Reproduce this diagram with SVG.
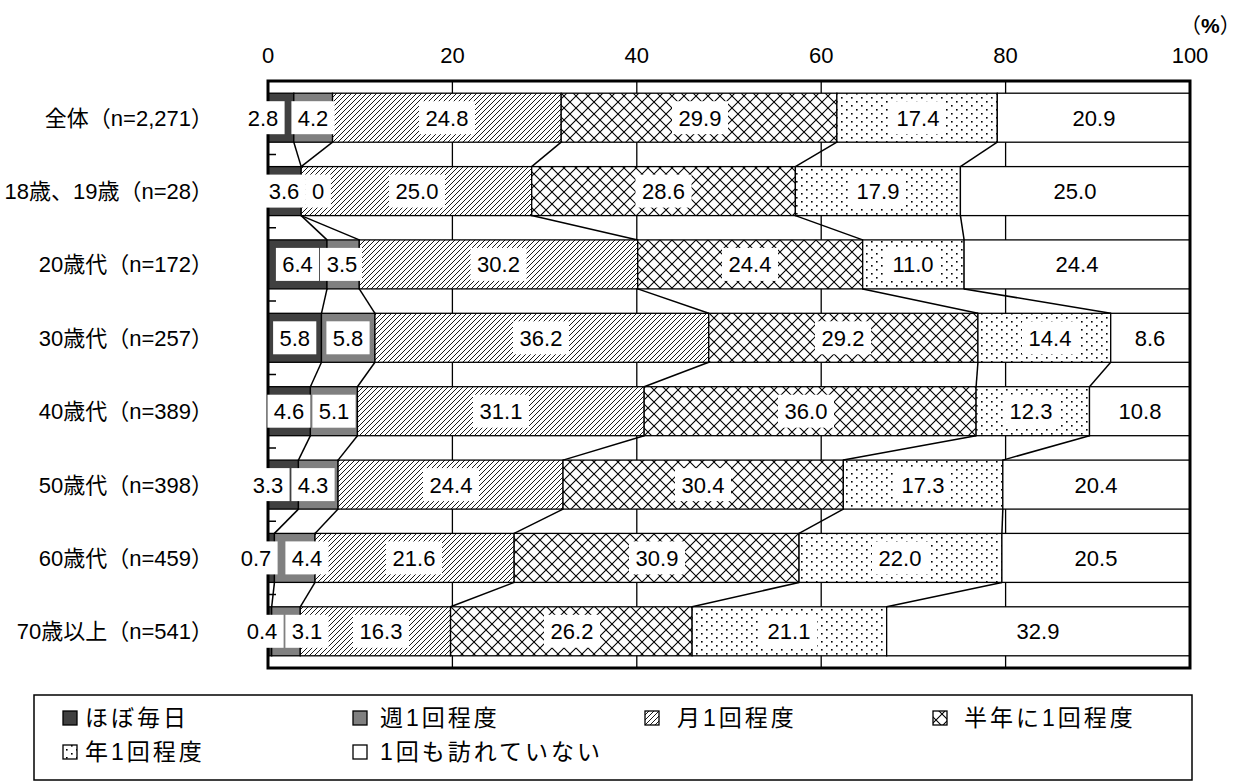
<svg xmlns="http://www.w3.org/2000/svg" width="1252" height="782" viewBox="0 0 1252 782">
<style>
text{font-family:"Liberation Sans","Noto Sans CJK JP",sans-serif;fill:#000}
.tick{font-size:22px;text-anchor:middle}
.cat{font-size:22px;text-anchor:end}
.v{font-size:22px;text-anchor:middle}
.lg{font-size:23px;letter-spacing:3px}
.seg rect,.sw{stroke:#000;stroke-width:1.3}
.s1{fill:#404040}.s2{fill:#808080}.s3{fill:url(#hatch)}.s4{fill:url(#cross)}.s5{fill:url(#dots)}.s6{fill:#fff}
.lb{fill:#fff}
.grid{stroke:#000;stroke-width:1.3}
.conn line{stroke:#000;stroke-width:1.5}
</style>
<defs>
<pattern id="hatch" width="5" height="5" patternUnits="userSpaceOnUse"><rect width="5" height="5" fill="#fff"/><path d="M-1,1 L1,-1 M0,5 L5,0 M4,6 L6,4" stroke="#000" stroke-width="0.9"/></pattern>
<pattern id="cross" width="12" height="12" patternUnits="userSpaceOnUse"><rect width="12" height="12" fill="#fff"/><path d="M0,0 L12,12 M12,0 L0,12" stroke="#000" stroke-width="1.1"/></pattern>
<pattern id="dots" width="10" height="8" patternUnits="userSpaceOnUse"><rect width="10" height="8" fill="#fff"/><rect x="1" y="1" width="1.6" height="1.6" fill="#000"/><rect x="6" y="5" width="1.6" height="1.6" fill="#000"/></pattern>
</defs>
<rect width="1252" height="782" fill="#fff"/>

<g id="axis-labels">
<text class="tick" x="268" y="63">0</text>
<text class="tick" x="452.4" y="63">20</text>
<text class="tick" x="636.8" y="63">40</text>
<text class="tick" x="821.2" y="63">60</text>
<text class="tick" x="1005.6" y="63">80</text>
<text class="tick" x="1190" y="63">100</text>
<text x="1180" y="33" font-size="21">（<tspan font-weight="bold">%</tspan>）</text>
</g>

<g id="gridlines" class="grid">
<line x1="452.4" y1="81" x2="452.4" y2="668"/>
<line x1="636.8" y1="81" x2="636.8" y2="668"/>
<line x1="821.2" y1="81" x2="821.2" y2="668"/>
<line x1="1005.6" y1="81" x2="1005.6" y2="668"/>
</g>

<g id="categories">
<text class="cat" x="213" y="125.7">全体（n=2,271）</text>
<text class="cat" x="213" y="199.1">18歳、19歳（n=28）</text>
<text class="cat" x="213" y="272.4">20歳代（n=172）</text>
<text class="cat" x="213" y="345.8">30歳代（n=257）</text>
<text class="cat" x="213" y="419.2">40歳代（n=389）</text>
<text class="cat" x="213" y="492.6">50歳代（n=398）</text>
<text class="cat" x="213" y="565.9">60歳代（n=459）</text>
<text class="cat" x="213" y="639.3">70歳以上（n=541）</text>
</g>

<g id="bar-all" class="seg">
<rect class="s1" x="268" y="93.2" width="25.82" height="49"/>
<rect class="s2" x="293.82" y="93.2" width="38.72" height="49"/>
<rect class="s3" x="332.54" y="93.2" width="228.66" height="49"/>
<rect class="s4" x="561.2" y="93.2" width="275.67" height="49"/>
<rect class="s5" x="836.87" y="93.2" width="160.43" height="49"/>
<rect class="s6" x="997.3" y="93.2" width="192.7" height="49"/>
</g>
<g id="bar-18-19" class="seg">
<rect class="s1" x="268" y="166.6" width="33.19" height="49"/>
<rect class="s3" x="301.19" y="166.6" width="230.5" height="49"/>
<rect class="s4" x="531.69" y="166.6" width="263.69" height="49"/>
<rect class="s5" x="795.38" y="166.6" width="165.04" height="49"/>
<rect class="s6" x="960.42" y="166.6" width="229.58" height="49"/>
</g>
<g id="bar-20s" class="seg">
<rect class="s1" x="268" y="239.9" width="59.01" height="49"/>
<rect class="s2" x="327.01" y="239.9" width="32.27" height="49"/>
<rect class="s3" x="359.28" y="239.9" width="278.44" height="49"/>
<rect class="s4" x="637.72" y="239.9" width="224.97" height="49"/>
<rect class="s5" x="862.69" y="239.9" width="101.42" height="49"/>
<rect class="s6" x="964.11" y="239.9" width="225.89" height="49"/>
</g>
<g id="bar-30s" class="seg">
<rect class="s1" x="268" y="313.3" width="53.48" height="49"/>
<rect class="s2" x="321.48" y="313.3" width="53.47" height="49"/>
<rect class="s3" x="374.95" y="313.3" width="333.77" height="49"/>
<rect class="s4" x="708.72" y="313.3" width="269.22" height="49"/>
<rect class="s5" x="977.94" y="313.3" width="132.77" height="49"/>
<rect class="s6" x="1110.71" y="313.3" width="79.29" height="49"/>
</g>
<g id="bar-40s" class="seg">
<rect class="s1" x="268" y="386.7" width="42.41" height="49"/>
<rect class="s2" x="310.41" y="386.7" width="47.02" height="49"/>
<rect class="s3" x="357.43" y="386.7" width="286.75" height="49"/>
<rect class="s4" x="644.18" y="386.7" width="331.92" height="49"/>
<rect class="s5" x="976.1" y="386.7" width="113.4" height="49"/>
<rect class="s6" x="1089.5" y="386.7" width="100.5" height="49"/>
</g>
<g id="bar-50s" class="seg">
<rect class="s1" x="268" y="460.1" width="30.43" height="49"/>
<rect class="s2" x="298.43" y="460.1" width="39.64" height="49"/>
<rect class="s3" x="338.07" y="460.1" width="224.97" height="49"/>
<rect class="s4" x="563.04" y="460.1" width="280.29" height="49"/>
<rect class="s5" x="843.33" y="460.1" width="159.5" height="49"/>
<rect class="s6" x="1002.83" y="460.1" width="187.17" height="49"/>
</g>
<g id="bar-60s" class="seg">
<rect class="s1" x="268" y="533.4" width="6.45" height="49"/>
<rect class="s2" x="274.45" y="533.4" width="40.57" height="49"/>
<rect class="s3" x="315.02" y="533.4" width="199.15" height="49"/>
<rect class="s4" x="514.17" y="533.4" width="284.9" height="49"/>
<rect class="s5" x="799.07" y="533.4" width="202.84" height="49"/>
<rect class="s6" x="1001.91" y="533.4" width="188.09" height="49"/>
</g>
<g id="bar-70plus" class="seg">
<rect class="s1" x="268" y="606.8" width="3.69" height="49"/>
<rect class="s2" x="271.69" y="606.8" width="28.58" height="49"/>
<rect class="s3" x="300.27" y="606.8" width="150.29" height="49"/>
<rect class="s4" x="450.56" y="606.8" width="241.56" height="49"/>
<rect class="s5" x="692.12" y="606.8" width="194.54" height="49"/>
<rect class="s6" x="886.66" y="606.8" width="303.34" height="49"/>
</g>

<g id="connectors" class="conn">
<line x1="293.82" y1="142.2" x2="301.19" y2="166.6"/><line x1="332.54" y1="142.2" x2="301.19" y2="166.6"/><line x1="561.2" y1="142.2" x2="531.69" y2="166.6"/><line x1="836.87" y1="142.2" x2="795.38" y2="166.6"/><line x1="997.3" y1="142.2" x2="960.42" y2="166.6"/>
<line x1="301.19" y1="215.6" x2="327.01" y2="239.9"/><line x1="301.19" y1="215.6" x2="359.28" y2="239.9"/><line x1="531.69" y1="215.6" x2="637.72" y2="239.9"/><line x1="795.38" y1="215.6" x2="862.69" y2="239.9"/><line x1="960.42" y1="215.6" x2="964.11" y2="239.9"/>
<line x1="327.01" y1="288.9" x2="321.48" y2="313.3"/><line x1="359.28" y1="288.9" x2="374.95" y2="313.3"/><line x1="637.72" y1="288.9" x2="708.72" y2="313.3"/><line x1="862.69" y1="288.9" x2="977.94" y2="313.3"/><line x1="964.11" y1="288.9" x2="1110.71" y2="313.3"/>
<line x1="321.48" y1="362.3" x2="310.41" y2="386.7"/><line x1="374.95" y1="362.3" x2="357.43" y2="386.7"/><line x1="708.72" y1="362.3" x2="644.18" y2="386.7"/><line x1="977.94" y1="362.3" x2="976.1" y2="386.7"/><line x1="1110.71" y1="362.3" x2="1089.5" y2="386.7"/>
<line x1="310.41" y1="435.7" x2="298.43" y2="460.1"/><line x1="357.43" y1="435.7" x2="338.07" y2="460.1"/><line x1="644.18" y1="435.7" x2="563.04" y2="460.1"/><line x1="976.1" y1="435.7" x2="843.33" y2="460.1"/><line x1="1089.5" y1="435.7" x2="1002.83" y2="460.1"/>
<line x1="298.43" y1="509.1" x2="274.45" y2="533.4"/><line x1="338.07" y1="509.1" x2="315.02" y2="533.4"/><line x1="563.04" y1="509.1" x2="514.17" y2="533.4"/><line x1="843.33" y1="509.1" x2="799.07" y2="533.4"/><line x1="1002.83" y1="509.1" x2="1001.91" y2="533.4"/>
<line x1="274.45" y1="582.4" x2="271.69" y2="606.8"/><line x1="315.02" y1="582.4" x2="300.27" y2="606.8"/><line x1="514.17" y1="582.4" x2="450.56" y2="606.8"/><line x1="799.07" y1="582.4" x2="692.12" y2="606.8"/><line x1="1001.91" y1="582.4" x2="886.66" y2="606.8"/>
</g>

<g id="frame">
<rect x="268" y="81" width="922" height="587" fill="none" stroke="#000" stroke-width="3"/>
<path d="M268,154.4h8M268,227.8h8M268,301.1h8M268,374.5h8M268,447.9h8M268,521.3h8M268,594.6h8" stroke="#000" stroke-width="1.5"/>
</g>

<g id="values">
<g>
<rect class="lb" x="241.4" y="101.2" width="43.2" height="33"/><text class="v" x="263" y="125.7">2.8</text>
<rect class="lb" x="291.4" y="101.2" width="43.2" height="33"/><text class="v" x="313" y="125.7">4.2</text>
<rect class="lb" x="419" y="101.2" width="56" height="33"/><text class="v" x="447" y="125.7">24.8</text>
<rect class="lb" x="672" y="101.2" width="56" height="33"/><text class="v" x="700" y="125.7">29.9</text>
<rect class="lb" x="890" y="101.2" width="56" height="33"/><text class="v" x="918" y="125.7">17.4</text>
<text class="v" x="1094" y="125.7">20.9</text>
</g>
<g>
<rect class="lb" x="262.4" y="174.6" width="43.2" height="33"/><text class="v" x="284" y="199.1">3.6</text>
<rect class="lb" x="305.2" y="174.6" width="25.7" height="33"/><text class="v" x="318" y="199.1">0</text>
<rect class="lb" x="389" y="174.6" width="56" height="33"/><text class="v" x="417" y="199.1">25.0</text>
<rect class="lb" x="635.5" y="174.6" width="56" height="33"/><text class="v" x="663.5" y="199.1">28.6</text>
<rect class="lb" x="850" y="174.6" width="56" height="33"/><text class="v" x="878" y="199.1">17.9</text>
<text class="v" x="1075" y="199.1">25.0</text>
</g>
<g>
<rect class="lb" x="275.9" y="247.9" width="43.2" height="33"/><text class="v" x="297.5" y="272.4">6.4</text>
<rect class="lb" x="320" y="247.9" width="42" height="33"/><text class="v" x="342" y="272.4">3.5</text>
<rect class="lb" x="470.5" y="247.9" width="56" height="33"/><text class="v" x="498.5" y="272.4">30.2</text>
<rect class="lb" x="722" y="247.9" width="56" height="33"/><text class="v" x="750" y="272.4">24.4</text>
<rect class="lb" x="885" y="247.9" width="56" height="33"/><text class="v" x="913" y="272.4">11.0</text>
<text class="v" x="1077" y="272.4">24.4</text>
</g>
<g>
<rect class="lb" x="273.1" y="321.3" width="43.2" height="33"/><text class="v" x="294.7" y="345.8">5.8</text>
<rect class="lb" x="326.4" y="321.3" width="43.2" height="33"/><text class="v" x="348" y="345.8">5.8</text>
<rect class="lb" x="513" y="321.3" width="56" height="33"/><text class="v" x="541" y="345.8">36.2</text>
<rect class="lb" x="815" y="321.3" width="56" height="33"/><text class="v" x="843" y="345.8">29.2</text>
<rect class="lb" x="1022" y="321.3" width="56" height="33"/><text class="v" x="1050" y="345.8">14.4</text>
<text class="v" x="1150" y="345.8">8.6</text>
</g>
<g>
<rect class="lb" x="267.4" y="394.7" width="43.2" height="33"/><text class="v" x="289" y="419.2">4.6</text>
<rect class="lb" x="312.4" y="394.7" width="43.2" height="33"/><text class="v" x="334" y="419.2">5.1</text>
<rect class="lb" x="473" y="394.7" width="56" height="33"/><text class="v" x="501" y="419.2">31.1</text>
<rect class="lb" x="778" y="394.7" width="56" height="33"/><text class="v" x="806" y="419.2">36.0</text>
<rect class="lb" x="1003" y="394.7" width="56" height="33"/><text class="v" x="1031" y="419.2">12.3</text>
<text class="v" x="1140" y="419.2">10.8</text>
</g>
<g>
<rect class="lb" x="246.4" y="468.1" width="43.2" height="33"/><text class="v" x="268" y="492.6">3.3</text>
<rect class="lb" x="291.4" y="468.1" width="43.2" height="33"/><text class="v" x="313" y="492.6">4.3</text>
<rect class="lb" x="423" y="468.1" width="56" height="33"/><text class="v" x="451" y="492.6">24.4</text>
<rect class="lb" x="675" y="468.1" width="56" height="33"/><text class="v" x="703" y="492.6">30.4</text>
<rect class="lb" x="895" y="468.1" width="56" height="33"/><text class="v" x="923" y="492.6">17.3</text>
<text class="v" x="1096" y="492.6">20.4</text>
</g>
<g>
<rect class="lb" x="234.4" y="541.4" width="43.2" height="33"/><text class="v" x="256" y="565.9">0.7</text>
<rect class="lb" x="285.4" y="541.4" width="43.2" height="33"/><text class="v" x="307" y="565.9">4.4</text>
<rect class="lb" x="386" y="541.4" width="56" height="33"/><text class="v" x="414" y="565.9">21.6</text>
<rect class="lb" x="629" y="541.4" width="56" height="33"/><text class="v" x="657" y="565.9">30.9</text>
<rect class="lb" x="872" y="541.4" width="56" height="33"/><text class="v" x="900" y="565.9">22.0</text>
<text class="v" x="1096" y="565.9">20.5</text>
</g>
<g>
<rect class="lb" x="240.4" y="614.8" width="43.2" height="33"/><text class="v" x="262" y="639.3">0.4</text>
<rect class="lb" x="285.4" y="614.8" width="43.2" height="33"/><text class="v" x="307" y="639.3">3.1</text>
<rect class="lb" x="353" y="614.8" width="56" height="33"/><text class="v" x="381" y="639.3">16.3</text>
<rect class="lb" x="544" y="614.8" width="56" height="33"/><text class="v" x="572" y="639.3">26.2</text>
<rect class="lb" x="761" y="614.8" width="56" height="33"/><text class="v" x="789" y="639.3">21.1</text>
<text class="v" x="1038" y="639.3">32.9</text>
</g>
</g>

<g id="legend">
<rect x="34" y="695" width="1158" height="85" fill="#fff" stroke="#000" stroke-width="1.5"/>
<g id="lg1"><rect class="sw s1" x="63" y="711" width="14" height="14"/><text class="lg" x="85" y="726">ほぼ毎日</text></g>
<g id="lg2"><rect class="sw s2" x="353" y="711" width="14" height="14"/><text class="lg" x="380" y="726">週1回程度</text></g>
<g id="lg3"><rect class="sw s3" x="645" y="711" width="14" height="14"/><text class="lg" x="677" y="726">月1回程度</text></g>
<g id="lg4"><rect class="sw s4" x="933" y="711" width="14" height="14"/><text class="lg" x="964" y="726">半年に1回程度</text></g>
<g id="lg5"><rect class="sw s5" x="63" y="745" width="14" height="14"/><text class="lg" x="85" y="760">年1回程度</text></g>
<g id="lg6"><rect class="sw s6" x="353" y="745" width="14" height="14"/><text class="lg" x="380" y="760">1回も訪れていない</text></g>
</g>
</svg>
